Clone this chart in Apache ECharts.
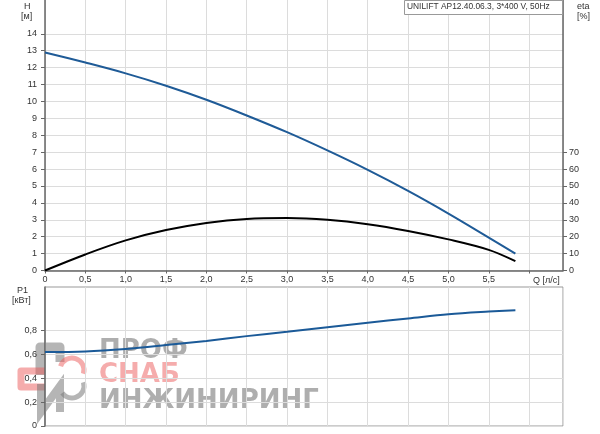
<!DOCTYPE html>
<html>
<head>
<meta charset="utf-8">
<script src="https://cdn.jsdelivr.net/npm/echarts@6/dist/echarts.min.js"></script>
<style>
html,body{margin:0;padding:0;background:#fff;}
#chart{width:600px;height:434px;}
</style>
</head>
<body>
<div id="chart"></div>
<script>
// ---- data ----
var flowQ = [0, 0.5, 1.0, 1.5, 2.0, 2.5, 3.0, 3.5, 4.0, 4.5, 5.0, 5.5, 5.83];
var headH = [12.9, 12.3, 11.66, 10.93, 10.1, 9.17, 8.18, 7.1, 5.95, 4.71, 3.37, 1.95, 1.0];
var effEta = [0, 9.5, 17.8, 23.9, 28.1, 30.5, 31.0, 30.0, 27.4, 23.4, 18.4, 12.2, 5.5];
var powerP1 = [0.617, 0.622, 0.643, 0.675, 0.71, 0.75, 0.786, 0.824, 0.862, 0.897, 0.932, 0.955, 0.967];
var hTicks = [0,1,2,3,4,5,6,7,8,9,10,11,12,13,14];
var etaTicks = [0,10,20,30,40,50,60,70];
var pTicks = [0,0.2,0.4,0.6,0.8];
var titleText = 'UNILIFT AP12.40.06.3, 3*400 V, 50Hz';

function pairs(xs, ys){ return xs.map(function(x,i){ return [x, ys[i]]; }); }
function comma(v, d){ return v === 0 ? '0' : v.toFixed(d).replace('.', ','); }

var FONT = 'Liberation Sans';
var axisCol = '#666';
var gridCol = '#dcdcdc';
var txtCol = '#333';
var F9 = '9px "Liberation Sans"';

var chart = echarts.init(document.getElementById('chart'), null, {renderer:'canvas'});
var option = {
  animation: false,
  backgroundColor: '#fff',
  textStyle: {fontFamily: FONT},
  grid: [
    {left: 45, top: 0, width: 518, height: 270.5, show: false},
    {left: 45, top: 287, width: 518, height: 139, show: true, borderColor: '#999', borderWidth: 1}
  ],
  xAxis: [
    {gridIndex: 0, type: 'value', min: 0, max: 6.42, interval: 0.5,
     axisLine: {show: true, lineStyle: {color: axisCol, width: 1.5}},
     axisTick: {show: true, length: 3, lineStyle: {color: axisCol}},
     axisLabel: {show: true, showMaxLabel: false, margin: 5, fontSize: 9, color: txtCol, fontFamily: FONT,
       formatter: function(v){ return v > 5.9 ? '' : comma(v, 1); }},
     splitLine: {show: true, lineStyle: {color: gridCol, width: 1}}},
    {gridIndex: 1, type: 'value', min: 0, max: 6.42, interval: 0.5,
     axisLine: {show: false}, axisTick: {show: false}, axisLabel: {show: false},
     splitLine: {show: true, lineStyle: {color: gridCol, width: 1}}}
  ],
  yAxis: [
    {gridIndex: 0, type: 'value', min: 0, max: 16, interval: 1, position: 'left',
     axisLine: {show: true, lineStyle: {color: axisCol, width: 1.5}},
     axisTick: {show: true, length: 4, customValues: hTicks, lineStyle: {color: axisCol}},
     axisLabel: {show: true, customValues: hTicks, margin: 8, fontSize: 9, color: txtCol, fontFamily: FONT},
     splitLine: {show: true, lineStyle: {color: gridCol, width: 1}}},
    {gridIndex: 0, type: 'value', min: 0, max: 160, interval: 10, position: 'right',
     axisLine: {show: true, lineStyle: {color: axisCol, width: 1.5}},
     axisTick: {show: true, length: 4, customValues: etaTicks, lineStyle: {color: axisCol}},
     axisLabel: {show: true, customValues: etaTicks, margin: 6, fontSize: 9, color: txtCol, fontFamily: FONT},
     splitLine: {show: false}},
    {gridIndex: 1, type: 'value', min: 0, max: 1.16, interval: 0.2, position: 'left',
     axisLine: {show: true, lineStyle: {color: axisCol, width: 1.5}},
     axisTick: {show: true, length: 4, customValues: pTicks, lineStyle: {color: axisCol}},
     axisLabel: {show: true, customValues: pTicks, margin: 8, fontSize: 9, color: txtCol, fontFamily: FONT,
       formatter: function(v){ return comma(v, 1); }},
     splitLine: {show: true, lineStyle: {color: gridCol, width: 1}}}
  ],
  series: [
    {name: 'H', type: 'line', xAxisIndex: 0, yAxisIndex: 0, smooth: 0.35, showSymbol: false,
     lineStyle: {color: '#1f5b97', width: 2}, data: pairs(flowQ, headH), z: 3},
    {name: 'eta', type: 'line', xAxisIndex: 0, yAxisIndex: 1, smooth: 0.35, showSymbol: false,
     lineStyle: {color: '#000', width: 2}, data: pairs(flowQ, effEta), z: 3},
    {name: 'P1', type: 'line', xAxisIndex: 1, yAxisIndex: 2, smooth: 0.35, showSymbol: false,
     lineStyle: {color: '#1b5a98', width: 2}, data: pairs(flowQ, powerP1), z: 3}
  ],
  graphic: [
    {type: 'rect', left: 404, top: 0, z: 100, zlevel: 1, shape: {width: 158, height: 14}, style: {fill: '#fff', stroke: '#999', lineWidth: 1}},
    {type: 'text', left: 407, top: 3, z: 101, zlevel: 1, style: {text: titleText, font: '8.4px "Liberation Sans"', fill: txtCol}},
    {type: 'text', left: 24, top: 2, style: {text: 'H', font: F9, fill: txtCol}},
    {type: 'text', left: 21, top: 12, style: {text: '[м]', font: F9, fill: txtCol}},
    {type: 'text', left: 577, top: 2, style: {text: 'eta', font: F9, fill: txtCol}},
    {type: 'text', left: 577, top: 12, style: {text: '[%]', font: F9, fill: txtCol}},
    {type: 'text', left: 533, top: 276, style: {text: 'Q [л/с]', font: F9, fill: txtCol}},
    {type: 'text', left: 17, top: 286, style: {text: 'P1', font: F9, fill: txtCol}},
    {type: 'text', left: 12, top: 296, style: {text: '[кВт]', font: F9, fill: txtCol}},
    // watermark
    {type: 'group', z: 20, zlevel: 1, children: [
      {type: 'polyline', shape: {points: [[40,375],[40,347],[60,347],[60,362]]}, style: {stroke: 'rgba(120,120,120,0.55)', lineWidth: 9, fill: null, lineJoin: 'round'}},
      {type: 'polyline', shape: {points: [[46,371],[21,371],[21,387],[46,387]]}, style: {stroke: 'rgba(235,90,90,0.5)', lineWidth: 7, fill: null, lineJoin: 'round'}},
      {type: 'polyline', shape: {points: [[41,384],[41,412],[60,386],[60,412]]}, style: {stroke: 'rgba(120,120,120,0.55)', lineWidth: 8, fill: null}},
      {type: 'arc', shape: {cx: 72, cy: 370, r: 12, startAngle: -Math.PI*0.9, endAngle: Math.PI*0.1}, style: {stroke: 'rgba(235,90,90,0.5)', lineWidth: 5, fill: null}},
      {type: 'arc', shape: {cx: 72, cy: 386, r: 12, startAngle: -Math.PI*0.1, endAngle: Math.PI*0.8}, style: {stroke: 'rgba(120,120,120,0.55)', lineWidth: 5, fill: null}},
      {type: 'text', x: 99, y: 338, style: {text: 'ПРОФ', font: 'bold 26px "DejaVu Sans"', fill: 'rgba(120,120,120,0.6)'}},
      {type: 'text', x: 99, y: 362, style: {text: 'СНАБ', font: 'bold 26px "DejaVu Sans"', fill: 'rgba(235,90,90,0.5)'}},
      {type: 'text', x: 99, y: 388, style: {text: 'ИНЖИНИРИНГ', font: 'bold 26px "DejaVu Sans"', fill: 'rgba(120,120,120,0.6)'}}
    ]}
  ]
};
chart.setOption(option);
</script>
</body>
</html>
